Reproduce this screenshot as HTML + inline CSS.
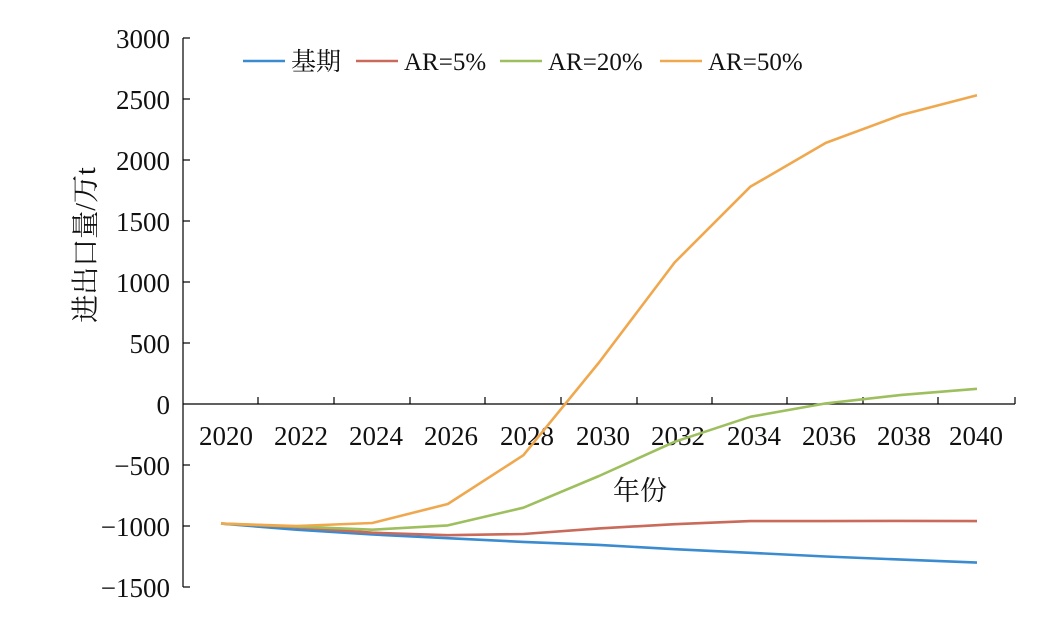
<!DOCTYPE html>
<html><head><meta charset="utf-8"><style>
html,body{margin:0;padding:0;background:#fff;}
svg{display:block;font-family:"Liberation Serif","Noto Serif CJK SC",serif;}
</style></head><body>
<svg width="1063" height="621" viewBox="0 0 1063 621" xmlns="http://www.w3.org/2000/svg">
<g stroke="#000" stroke-width="1.2" fill="none">
<line x1="183" y1="38" x2="183" y2="587"/>
<line x1="183" y1="404" x2="1015" y2="404"/>
<line x1="183" y1="38" x2="190" y2="38"/><line x1="183" y1="99" x2="190" y2="99"/>
<line x1="183" y1="160" x2="190" y2="160"/><line x1="183" y1="221" x2="190" y2="221"/>
<line x1="183" y1="282" x2="190" y2="282"/><line x1="183" y1="343" x2="190" y2="343"/>
<line x1="183" y1="465" x2="190" y2="465"/><line x1="183" y1="526" x2="190" y2="526"/>
<line x1="183" y1="587" x2="190" y2="587"/>
<line x1="258" y1="404" x2="258" y2="397"/><line x1="334" y1="404" x2="334" y2="397"/>
<line x1="410" y1="404" x2="410" y2="397"/><line x1="485" y1="404" x2="485" y2="397"/>
<line x1="561" y1="404" x2="561" y2="397"/><line x1="637" y1="404" x2="637" y2="397"/>
<line x1="712" y1="404" x2="712" y2="397"/><line x1="787" y1="404" x2="787" y2="397"/>
<line x1="863" y1="404" x2="863" y2="397"/><line x1="938" y1="404" x2="938" y2="397"/>
<line x1="1015" y1="404" x2="1015" y2="397"/>
</g>
<g font-size="27" text-anchor="end" fill="#111">
<text x="170" y="48">3000</text><text x="170" y="109">2500</text><text x="170" y="170">2000</text>
<text x="170" y="231">1500</text><text x="170" y="292">1000</text><text x="170" y="353">500</text>
<text x="170" y="414">0</text><text x="170" y="475">−500</text><text x="170" y="536">−1000</text>
<text x="170" y="597">−1500</text>
</g>
<g font-size="27" text-anchor="middle" fill="#111">
<text x="226" y="445">2020</text><text x="301" y="445">2022</text><text x="376" y="445">2024</text>
<text x="451" y="445">2026</text><text x="527" y="445">2028</text><text x="603" y="445">2030</text>
<text x="678" y="445">2032</text><text x="754" y="445">2034</text><text x="829" y="445">2036</text>
<text x="904" y="445">2038</text><text x="976" y="445">2040</text>
<text x="640" y="500">年份</text>
</g>
<text transform="translate(95,245) rotate(-90)" font-size="28" text-anchor="middle" fill="#111">进出口量/万t</text>
<g fill="none" stroke-width="2.6" stroke-linejoin="round">
<polyline stroke="#3b8bd0" points="221,523.6 296.6,529.7 372.2,534.5 447.8,538.2 523.4,541.9 599,544.9 674.6,549.2 750.2,552.8 825.8,556.5 901.4,559.6 977,562.6"/>
<polyline stroke="#c96a5a" points="221,523.6 296.6,527.2 372.2,532.7 447.8,535.2 523.4,534 599,528.4 674.6,524.2 750.2,521.1 825.8,521.1 901.4,520.9 977,521.1"/>
<polyline stroke="#9dbf5e" points="221,523.6 296.6,526.6 372.2,529.7 447.8,525.4 523.4,507.7 599,476 674.6,441.8 750.2,416.8 825.8,403.4 901.4,394.9 977,388.8"/>
<polyline stroke="#f0a84e" points="221,523.6 296.6,526 372.2,523 447.8,504 523.4,455.2 599,362.5 674.6,262.5 750.2,186.8 825.8,142.9 901.4,114.9 977,95.3"/>
</g>
<g font-size="25" fill="#111">
<line x1="243" y1="61" x2="285" y2="61" stroke="#3b8bd0" stroke-width="2.6"/><text x="291" y="70">基期</text>
<line x1="356" y1="61" x2="398" y2="61" stroke="#c96a5a" stroke-width="2.6"/><text x="404" y="70">AR=5%</text>
<line x1="500" y1="61" x2="542" y2="61" stroke="#9dbf5e" stroke-width="2.6"/><text x="548" y="70">AR=20%</text>
<line x1="660" y1="61" x2="702" y2="61" stroke="#f0a84e" stroke-width="2.6"/><text x="708" y="70">AR=50%</text>
</g>
</svg>
</body></html>
